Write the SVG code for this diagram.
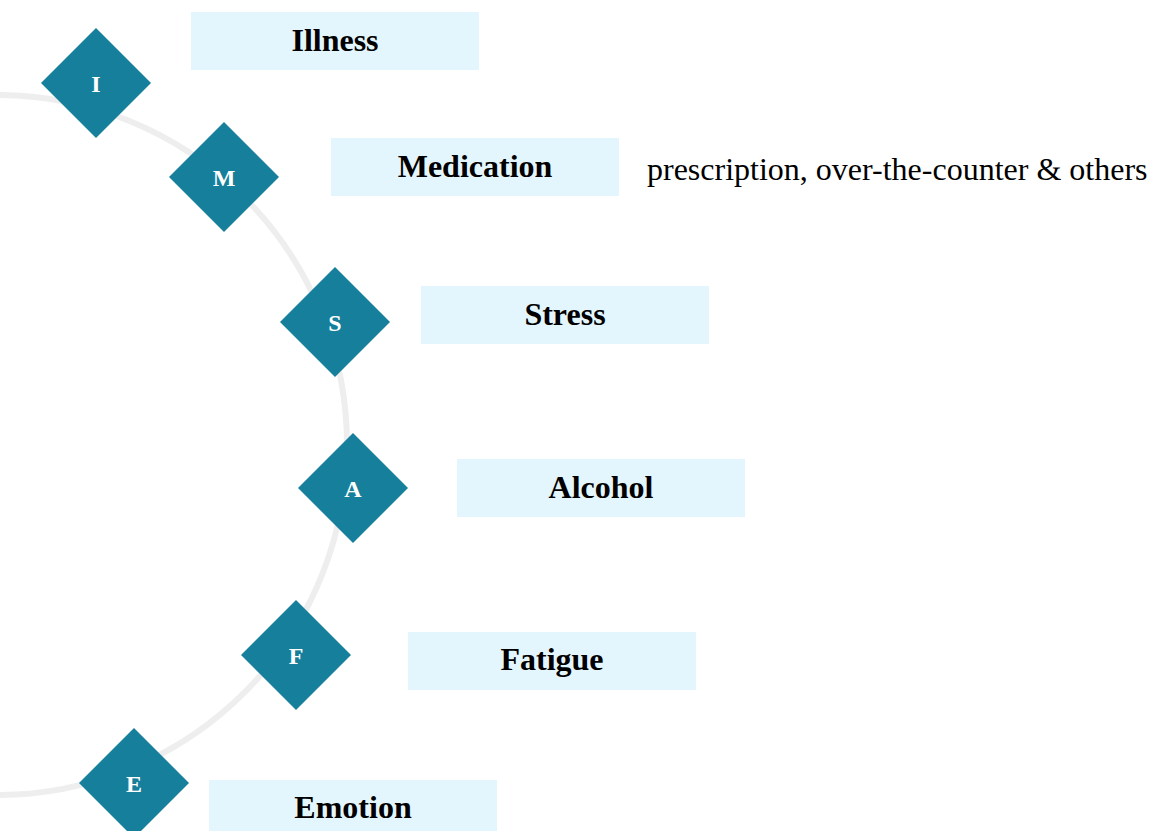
<svg xmlns="http://www.w3.org/2000/svg" width="1149" height="831" viewBox="0 0 1149 831">
<style>
.arc{fill:none;stroke:#eeeeee;stroke-width:6}
.dia{fill:#157f9c}
.dl{font-family:"Liberation Serif",serif;font-weight:bold;font-size:24px;fill:#ffffff;text-anchor:middle}
.box{fill:#e4f6fd}
.lbl{font-family:"Liberation Serif",serif;font-weight:bold;font-size:32px;fill:#000000;text-anchor:middle}
.desc{font-family:"Liberation Serif",serif;font-size:32px;fill:#000000}
</style>
<rect width="1149" height="831" fill="#ffffff"/>
<g id="connectors">
<path class="arc" d="M -3 95 A 350 350 0 0 1 -3 795"/>
</g>
<g id="node-illness">
<polygon class="dia" points="96,28 151,83 96,138 41,83"/>
<text class="dl" x="96" y="92">I</text>
<rect class="box" x="191" y="12" width="288" height="58"/>
<text class="lbl" x="335" y="51">Illness</text>
</g>
<g id="node-medication">
<polygon class="dia" points="224,122 279,177 224,232 169,177"/>
<text class="dl" x="224" y="186">M</text>
<rect class="box" x="331" y="138" width="288" height="58"/>
<text class="lbl" x="475" y="177">Medication</text>
<text class="desc" x="647" y="180">prescription, over-the-counter &amp; others</text>
</g>
<g id="node-stress">
<polygon class="dia" points="335,267 390,322 335,377 280,322"/>
<text class="dl" x="335" y="331">S</text>
<rect class="box" x="421" y="286" width="288" height="58"/>
<text class="lbl" x="565" y="325">Stress</text>
</g>
<g id="node-alcohol">
<polygon class="dia" points="353,433 408,488 353,543 298,488"/>
<text class="dl" x="353" y="497">A</text>
<rect class="box" x="457" y="459" width="288" height="58"/>
<text class="lbl" x="601" y="498">Alcohol</text>
</g>
<g id="node-fatigue">
<polygon class="dia" points="296,600 351,655 296,710 241,655"/>
<text class="dl" x="296" y="664">F</text>
<rect class="box" x="408" y="632" width="288" height="58"/>
<text class="lbl" x="552" y="670">Fatigue</text>
</g>
<g id="node-emotion">
<polygon class="dia" points="134,728 189,783 134,838 79,783"/>
<text class="dl" x="134" y="792">E</text>
<rect class="box" x="209" y="780" width="288" height="58"/>
<text class="lbl" x="353" y="818">Emotion</text>
</g>
</svg>
